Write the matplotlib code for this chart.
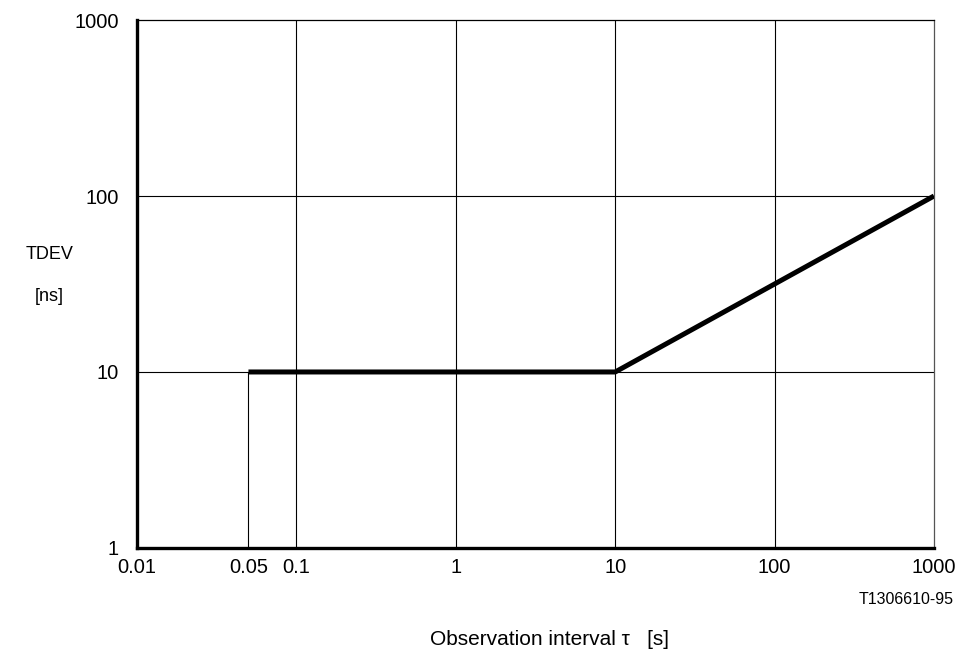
import matplotlib
matplotlib.use("Agg")
from matplotlib import pyplot as plt
import numpy as np

plt.rcParams['font.family'] = ['Liberation Sans', 'DejaVu Sans']

# TDEV mask: flat 10 ns from 0.05 s to 10 s, then rising to 100 ns at 1000 s
tau = [0.05, 10, 1000]
tdev = [10, 10, 100]

x_ticks = [0.01, 0.05, 0.1, 1, 10, 100, 1000]
x_labels = ["0.01", "0.05", "0.1", "1", "10", "100", "1000"]
y_ticks = [1, 10, 100, 1000]
y_labels = ["1", "10", "100", "1000"]

fig = plt.figure(figsize=(9.55, 6.57), dpi=100)
ax = fig.add_axes([0.1435, 0.166, 0.8345, 0.8035])

ax.set_xscale('log')
ax.set_yscale('log')
ax.set_xlim(0.01, 1000)
ax.set_ylim(1, 1000)

# decade grid
for x in [0.1, 1, 10, 100]:
    ax.axvline(x, color='black', lw=0.8, zorder=1)
for y in [10, 100]:
    ax.axhline(y, color='black', lw=0.8, zorder=1)

# lower limit of the mask
ax.plot([tau[0], tau[0]], [1, tdev[0]], color='black', lw=0.8, zorder=2)
ax.plot(tau, tdev, color='black', lw=3.6, solid_capstyle='butt', zorder=3)

ax.set_xticks(x_ticks)
ax.set_xticklabels(x_labels)
ax.set_yticks(y_ticks)
ax.set_yticklabels(y_labels)
ax.minorticks_off()
ax.tick_params(length=0, labelsize=14.5)
ax.tick_params(axis='x', pad=7.5)
ax.tick_params(axis='y', pad=13)

ax.spines['left'].set_linewidth(2.4)
ax.spines['bottom'].set_linewidth(2.4)
ax.spines['top'].set_linewidth(0.9)
ax.spines['right'].set_linewidth(0.9)
ax.spines['right'].set_color('#555555')

fig.text(0.052, 0.612, "TDEV", fontsize=13, ha='center', va='center')
fig.text(0.052, 0.548, "[ns]", fontsize=13, ha='center', va='center')
fig.text(0.999, 0.088, "T1306610-95", fontsize=11.5, ha='right', va='center')
fig.text(0.575, 0.012, "Observation interval \u03c4   [s]", fontsize=15,
         ha='center', va='bottom')

plt.savefig("out.png", dpi=100)
